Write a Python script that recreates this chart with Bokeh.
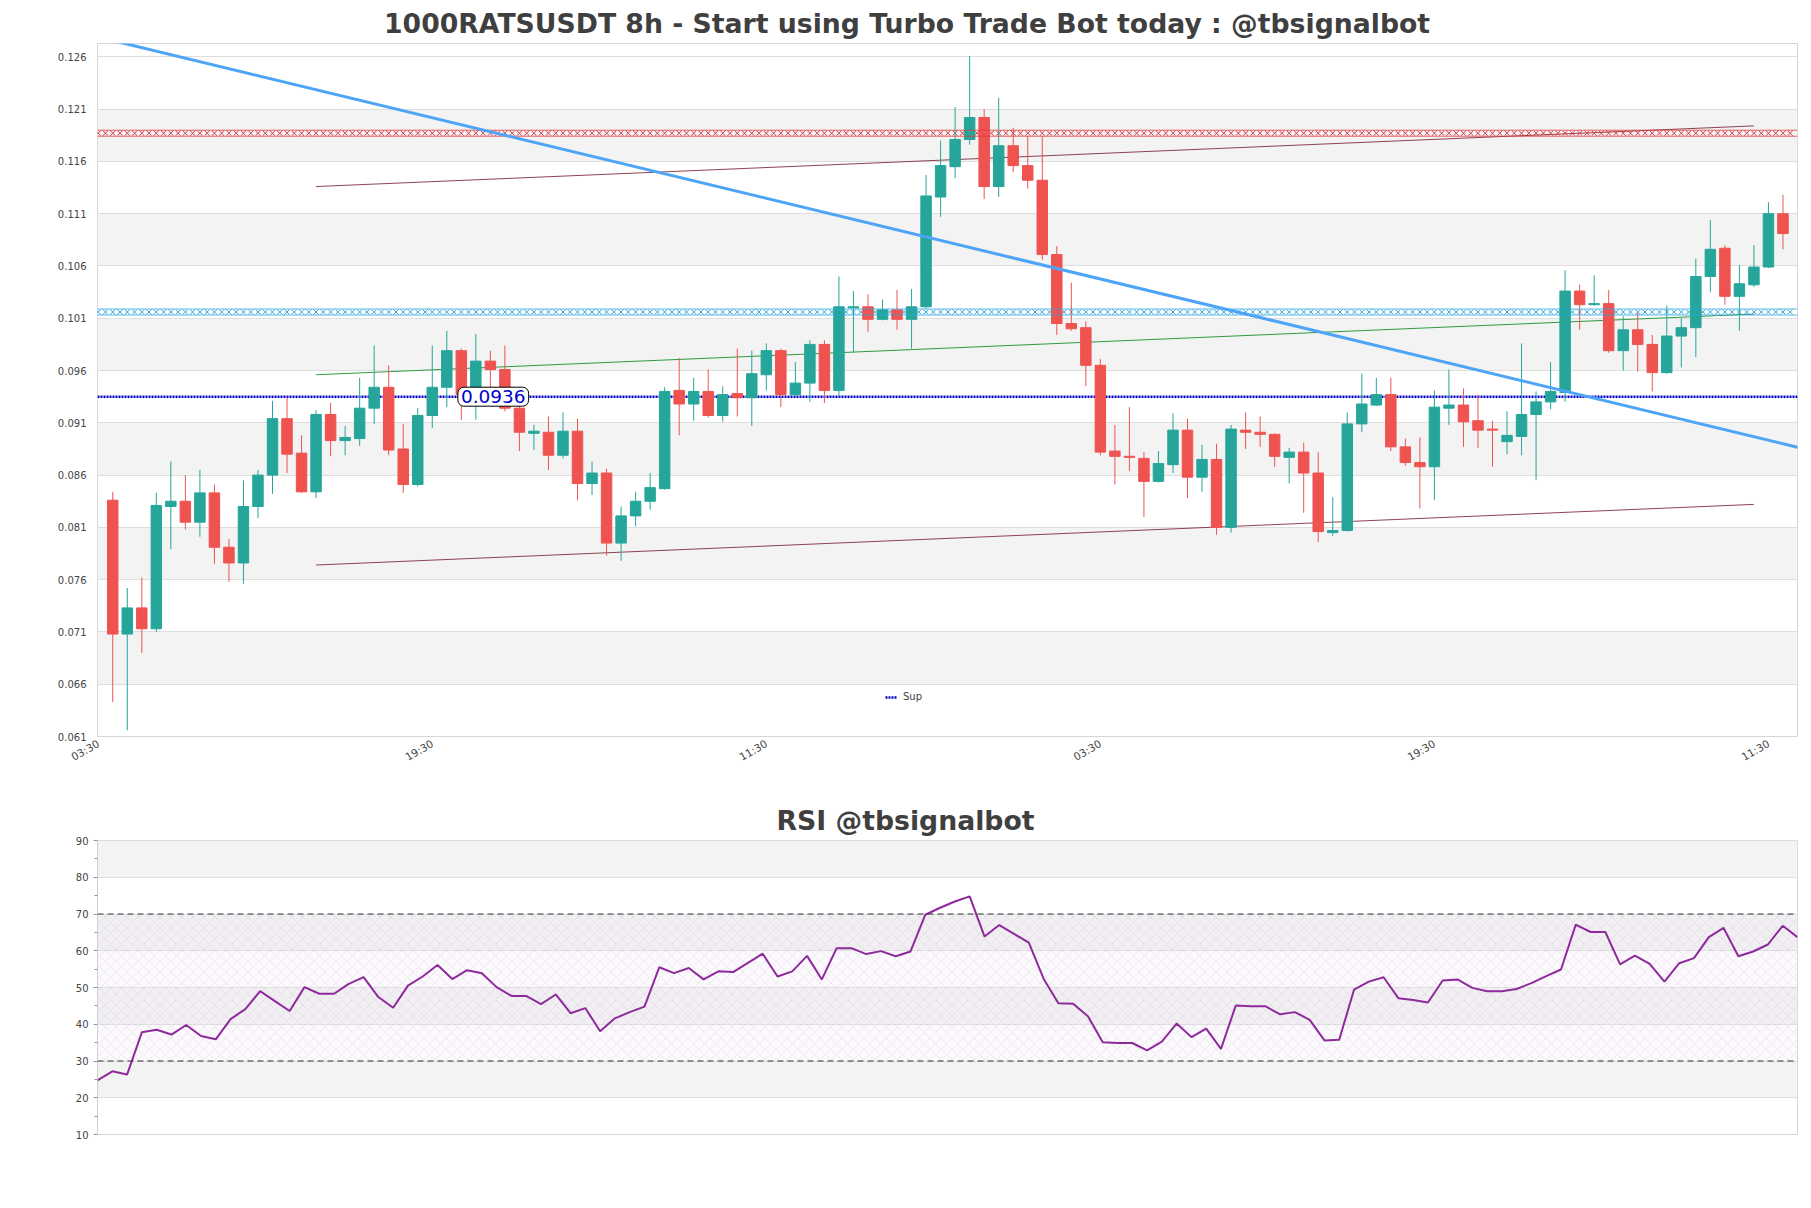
import numpy as np
from bokeh.plotting import figure
from bokeh.layouts import column
from bokeh.models import (Range1d, FixedTicker, PrintfTickFormatter, BoxAnnotation,
                          Span, Arrow, Label, Legend, LegendItem, ColumnDataSource)
from bokeh.embed import file_html
from bokeh.resources import INLINE

FONT = "DejaVu Sans"

# ---------------- data ----------------
opens = [0.0836, 0.0708, 0.0733, 0.0713, 0.0830, 0.0835, 0.0815, 0.0843, 0.0791, 0.0776,
         0.0830, 0.0860, 0.0914, 0.0881, 0.0844, 0.0918, 0.0893, 0.0895, 0.0924, 0.0944,
         0.0885, 0.0851, 0.0917, 0.0944, 0.0979, 0.0937, 0.0969, 0.0961, 0.0924, 0.0900,
         0.0901, 0.0879, 0.0902, 0.0852, 0.0862, 0.0795, 0.0821, 0.0835, 0.0847, 0.0941,
         0.0928, 0.0940, 0.0917, 0.0938, 0.0934, 0.0956, 0.0979, 0.0937, 0.0948, 0.0985,
         0.0941, 0.1020, 0.1021, 0.1009, 0.1018, 0.1009, 0.1021, 0.1126, 0.1155, 0.1181,
         0.1202, 0.1136, 0.1175, 0.1156, 0.1142, 0.1071, 0.1005, 0.1001, 0.0965, 0.0883,
         0.0878, 0.0876, 0.0854, 0.0870, 0.0903, 0.0858, 0.0875, 0.0810, 0.0903, 0.0901,
         0.0899, 0.0877, 0.0882, 0.0862, 0.0805, 0.0807, 0.0909, 0.0927, 0.0937, 0.0887,
         0.0872, 0.0868, 0.0924, 0.0927, 0.0912, 0.0904, 0.0892, 0.0897, 0.0918, 0.0930,
         0.0939, 0.1036, 0.1023, 0.1024, 0.0979, 0.0999, 0.0985, 0.0958, 0.0993, 0.1001,
         0.1050, 0.1077, 0.1031, 0.1042, 0.1059, 0.1110]
highs = [0.0844, 0.0752, 0.0762, 0.0843, 0.0873, 0.0860, 0.0865, 0.0851, 0.0799, 0.0855,
         0.0865, 0.0931, 0.0934, 0.0898, 0.0922, 0.0929, 0.0907, 0.0953, 0.0984, 0.0965,
         0.0909, 0.0924, 0.0984, 0.0998, 0.0981, 0.0995, 0.0979, 0.0984, 0.0930, 0.0908,
         0.0916, 0.0920, 0.0914, 0.0873, 0.0866, 0.0830, 0.0844, 0.0862, 0.0944, 0.0972,
         0.0953, 0.0961, 0.0945, 0.0981, 0.0979, 0.0986, 0.0981, 0.0968, 0.0989, 0.0989,
         0.1050, 0.1036, 0.1033, 0.1028, 0.1037, 0.1038, 0.1147, 0.1180, 0.1212, 0.1261,
         0.1210, 0.1221, 0.1192, 0.1184, 0.1184, 0.1079, 0.1044, 0.1007, 0.0971, 0.0908,
         0.0925, 0.0882, 0.0883, 0.0919, 0.0914, 0.0889, 0.0890, 0.0908, 0.0920, 0.0916,
         0.0900, 0.0886, 0.0891, 0.0882, 0.0839, 0.0920, 0.0957, 0.0953, 0.0953, 0.0895,
         0.0896, 0.0941, 0.0961, 0.0943, 0.0937, 0.0912, 0.0921, 0.0986, 0.0940, 0.0968,
         0.1056, 0.1042, 0.1051, 0.1037, 0.1012, 0.1015, 0.0994, 0.1022, 0.1010, 0.1067,
         0.1104, 0.1080, 0.1061, 0.1080, 0.1121, 0.1128]
lows = [0.0643, 0.0616, 0.0690, 0.0710, 0.0789, 0.0808, 0.0801, 0.0775, 0.0758, 0.0756,
        0.0819, 0.0842, 0.0862, 0.0843, 0.0838, 0.0878, 0.0879, 0.0888, 0.0909, 0.0879,
        0.0843, 0.0849, 0.0905, 0.0925, 0.0913, 0.0913, 0.0935, 0.0921, 0.0883, 0.0884,
        0.0865, 0.0876, 0.0836, 0.0841, 0.0783, 0.0778, 0.0811, 0.0827, 0.0846, 0.0898,
        0.0912, 0.0915, 0.0911, 0.0916, 0.0907, 0.0941, 0.0925, 0.0934, 0.0930, 0.0929,
        0.0935, 0.0977, 0.0997, 0.1008, 0.0999, 0.0981, 0.1019, 0.1107, 0.1144, 0.1176,
        0.1124, 0.1126, 0.1150, 0.1134, 0.1066, 0.0994, 0.0998, 0.0945, 0.0879, 0.0851,
        0.0864, 0.0820, 0.0853, 0.0862, 0.0838, 0.0844, 0.0803, 0.0805, 0.0885, 0.0887,
        0.0868, 0.0852, 0.0824, 0.0796, 0.0802, 0.0806, 0.0901, 0.0926, 0.0883, 0.0869,
        0.0828, 0.0836, 0.0908, 0.0887, 0.0886, 0.0868, 0.0880, 0.0879, 0.0855, 0.0923,
        0.0930, 0.0999, 0.1022, 0.0977, 0.0960, 0.0959, 0.0940, 0.0957, 0.0963, 0.0973,
        0.1035, 0.1023, 0.0998, 0.1040, 0.1058, 0.1076]
closes = [0.0708, 0.0733, 0.0713, 0.0831, 0.0835, 0.0815, 0.0843, 0.0791, 0.0776, 0.0830,
          0.0860, 0.0914, 0.0880, 0.0844, 0.0918, 0.0893, 0.0896, 0.0924, 0.0944, 0.0884,
          0.0851, 0.0917, 0.0944, 0.0979, 0.0937, 0.0969, 0.0961, 0.0924, 0.0901, 0.0902,
          0.0879, 0.0902, 0.0852, 0.0862, 0.0795, 0.0821, 0.0835, 0.0848, 0.0940, 0.0928,
          0.0940, 0.0917, 0.0937, 0.0934, 0.0957, 0.0979, 0.0937, 0.0948, 0.0985, 0.0941,
          0.1021, 0.1021, 0.1009, 0.1018, 0.1009, 0.1021, 0.1127, 0.1156, 0.1181, 0.1202,
          0.1136, 0.1175, 0.1156, 0.1142, 0.1071, 0.1005, 0.1000, 0.0965, 0.0882, 0.0878,
          0.0877, 0.0854, 0.0871, 0.0903, 0.0858, 0.0875, 0.0810, 0.0904, 0.0901, 0.0899,
          0.0878, 0.0882, 0.0862, 0.0806, 0.0807, 0.0909, 0.0928, 0.0937, 0.0887, 0.0872,
          0.0868, 0.0925, 0.0927, 0.0911, 0.0903, 0.0903, 0.0898, 0.0918, 0.0930, 0.0940,
          0.1036, 0.1023, 0.1024, 0.0979, 0.0999, 0.0985, 0.0958, 0.0993, 0.1001, 0.1050,
          0.1076, 0.1031, 0.1043, 0.1059, 0.1110, 0.1091]

rsi = [24.7, 27.2, 26.3, 37.8, 38.5, 37.2, 39.8, 36.8, 35.9, 41.4,
       44.1, 49.0, 46.3, 43.6, 50.1, 48.3, 48.3, 51.0, 52.8, 47.4,
       44.5, 50.5, 53.0, 56.1, 52.3, 54.7, 53.9, 50.1, 47.7, 47.7,
       45.5, 48.1, 43.0, 44.4, 38.1, 41.6, 43.3, 44.8, 55.5, 53.9,
       55.3, 52.2, 54.4, 54.2, 56.7, 59.2, 53.0, 54.4, 58.6, 52.2,
       60.7, 60.7, 59.1, 59.9, 58.5, 59.8, 69.8, 71.7, 73.4, 74.8,
       63.9, 67.0, 64.6, 62.2, 52.4, 45.7, 45.6, 42.2, 35.1, 34.9,
       34.9, 32.9, 35.3, 40.2, 36.5, 38.8, 33.3, 45.1, 44.9, 44.9,
       42.7, 43.3, 41.2, 35.6, 35.8, 49.4, 51.6, 52.8, 47.1, 46.6,
       45.9, 51.9, 52.2, 49.9, 49.0, 49.0, 49.6, 51.2, 53.1, 54.9,
       67.1, 65.1, 65.1, 56.3, 58.7, 56.4, 51.6, 56.6, 58.0, 63.7,
       66.2, 58.5, 59.8, 61.7, 66.8, 63.7]

price_ticks = [0.061, 0.066, 0.071, 0.076, 0.081, 0.086, 0.091, 0.096, 0.101,
               0.106, 0.111, 0.116, 0.121, 0.126]
time_tick_pos = [-1, 22, 45, 68, 91, 114]
time_tick_labels = ["03:30", "19:30", "11:30", "03:30", "19:30", "11:30"]

resistance_level = 0.1187
mid_level = 0.1016
sup_level = 0.0935
sup_text = "0.0936"
sup_label_x = 26.2

channel_x = [14, 113]
channel_upper = [0.1136, 0.1194]
channel_mid = [0.0956, 0.1014]
channel_lower = [0.0774, 0.0832]

trend_x = [-7.3, 116.8]
trend_y = [0.1300, 0.0884]

rsi_ticks = [10, 20, 30, 40, 50, 60, 70, 80, 90]
rsi_minor = [15, 25, 35, 45, 55, 65, 75, 85]
rsi_levels = [30, 70]

title_main = "1000RATSUSDT 8h - Start using Turbo Trade Bot today : @tbsignalbot"
title_rsi = "RSI @tbsignalbot"

# ---------------- layout constants ----------------
W = 1805
LEFT = 97
RIGHT = W - 1797
MAIN_TOP, MAIN_FRAME_H, MAIN_BOTTOM = 43, 693, 54
RSI_TOP, RSI_FRAME_H, RSI_BOTTOM = 50, 294, 60
TITLE_SIZE = "26.7px"


def style_title(fig, text, left_px):
    fig.title.text = text
    fig.title.align = "left"
    fig.title.offset = left_px - LEFT
    fig.title.text_font = FONT
    fig.title.text_font_size = TITLE_SIZE
    fig.title.text_font_style = "bold"
    fig.title.text_color = "#3f3f3f"
    fig.title.standoff = 9


# ---------------- main chart ----------------
n = len(opens)
idx = np.arange(n)
o = np.array(opens); h = np.array(highs); l = np.array(lows); c = np.array(closes)
up = c >= o
col = np.where(up, "#26a69a", "#ef5350")
src = ColumnDataSource(dict(x=idx, h=h, l=l, top=np.maximum(o, c),
                            bottom=np.minimum(o, c), color=col))

p = figure(width=W, height=MAIN_TOP + MAIN_FRAME_H + MAIN_BOTTOM, output_backend="svg",
           toolbar_location=None,
           x_range=Range1d(-1.05, 116.0), y_range=Range1d(0.061, 0.12728),
           min_border_left=LEFT, min_border_right=RIGHT, min_border_top=MAIN_TOP,
           min_border_bottom=MAIN_BOTTOM)
style_title(p, title_main, 383.5)
p.background_fill_color = "white"
p.border_fill_color = "white"
p.outline_line_color = "#d6d6d6"

for i in range(1, len(price_ticks) - 1, 2):
    p.add_layout(BoxAnnotation(bottom=price_ticks[i], top=price_ticks[i + 1],
                               fill_color="#f3f3f3", fill_alpha=1, line_alpha=0,
                               level="image"))

p.xgrid.visible = False
p.ygrid.ticker = FixedTicker(ticks=price_ticks)
p.ygrid.grid_line_color = "#dedede"
p.ygrid.grid_line_width = 1

p.yaxis.ticker = FixedTicker(ticks=price_ticks)
p.yaxis.formatter = PrintfTickFormatter(format="%.3f")
p.yaxis.major_label_text_font = FONT
p.yaxis.major_label_text_font_size = "10px"
p.yaxis.major_label_text_color = "#444444"
p.yaxis.axis_line_color = None
p.yaxis.major_tick_line_color = None
p.yaxis.minor_tick_line_color = None

p.xaxis.ticker = FixedTicker(ticks=time_tick_pos)
p.xaxis.major_label_overrides = {t: s for t, s in zip(time_tick_pos, time_tick_labels)}
p.xaxis.major_label_orientation = 0.5236
p.xaxis.major_label_standoff = 0
p.xaxis.major_label_text_font = FONT
p.xaxis.major_label_text_font_size = "10.5px"
p.xaxis.major_label_text_color = "#444444"
p.xaxis.axis_line_color = None
p.xaxis.major_tick_line_color = None
p.xaxis.minor_tick_line_color = None

# channel lines
p.line(channel_x, channel_upper, line_color="#7a2232", line_alpha=0.85, line_width=1)
p.line(channel_x, channel_lower, line_color="#7a2232", line_alpha=0.85, line_width=1)
p.line(channel_x, channel_mid, line_color="#2e9b3f", line_width=1)

# marker lines (hourglass chain look)
px_per_price = MAIN_FRAME_H / (0.12728 - 0.061)
half = 3.0 / px_per_price
xs_m = np.arange(-1.0, 116.0, 0.5)
for lvl, colr in [(resistance_level, "#e0393e"), (mid_level, "#2aa5dd")]:
    p.scatter(xs_m, np.full(len(xs_m), lvl), marker="x", size=7, line_color=colr,
              line_width=1)
    for off in (-half, half):
        p.add_layout(Span(location=lvl + off, dimension="width", line_color=colr,
                          line_width=1, line_alpha=0.8))

# support line
sup_r = p.line([-1.05, 116.0], [sup_level, sup_level], line_color="#0000c8",
               line_width=2.5, line_dash="2 1")

# candles
p.segment(x0="x", y0="l", x1="x", y1="h", line_color="color", line_width=1, source=src)
p.vbar(x="x", width=0.72, top="top", bottom="bottom", fill_color="color",
       line_color="color", line_width=1, source=src)

# trend line
p.add_layout(Arrow(x_start=trend_x[0], y_start=trend_y[0], x_end=trend_x[1],
                   y_end=trend_y[1], start=None, end=None, line_color="#4ea4f6",
                   line_width=3))

p.add_layout(Label(x=sup_label_x, y=sup_level, text=sup_text, text_align="center",
                   text_baseline="middle", text_font=FONT, text_font_size="18.5px",
                   text_color="#0000cc", background_fill_color="white",
                   border_line_color="black", border_line_width=1, padding=3,
                   border_radius=6))

legend = Legend(items=[LegendItem(label="Sup", renderers=[sup_r])], location=(788, 34),
                background_fill_alpha=0, border_line_alpha=0, label_text_font=FONT,
                label_text_font_size="10px", glyph_width=12, glyph_height=10,
                padding=0, margin=0, label_standoff=6)
p.add_layout(legend)

# ---------------- RSI chart ----------------
rsi_x = np.arange(len(rsi))
r = figure(width=W, height=RSI_TOP + RSI_FRAME_H + RSI_BOTTOM, output_backend="svg",
           toolbar_location=None,
           x_range=Range1d(0, len(rsi) - 1), y_range=Range1d(10, 90),
           min_border_left=LEFT, min_border_right=RIGHT, min_border_top=RSI_TOP,
           min_border_bottom=RSI_BOTTOM)
style_title(r, title_rsi, 776)
r.outline_line_color = "#d6d6d6"
r.xaxis.visible = False
r.xgrid.visible = False
r.ygrid.ticker = FixedTicker(ticks=rsi_ticks)
r.ygrid.grid_line_color = "#dedede"
for i in range(1, len(rsi_ticks) - 1, 2):
    r.add_layout(BoxAnnotation(bottom=rsi_ticks[i], top=rsi_ticks[i + 1],
                               fill_color="#f3f3f3", fill_alpha=1, line_alpha=0,
                               level="image"))
r.add_layout(BoxAnnotation(bottom=rsi_levels[0], top=rsi_levels[1], fill_color="#eadcf0",
                           fill_alpha=0.18, hatch_pattern="diagonal_cross",
                           hatch_color="#b9a6c4", hatch_alpha=0.35, hatch_scale=11,
                           hatch_weight=0.6, line_alpha=0, level="underlay"))
r.yaxis.ticker = FixedTicker(ticks=rsi_ticks, minor_ticks=rsi_minor)
r.yaxis.major_label_text_font = FONT
r.yaxis.major_label_text_font_size = "10px"
r.yaxis.major_label_text_color = "#444444"
r.yaxis.axis_line_color = "#cfcfcf"
r.yaxis.major_tick_line_color = "#999999"
r.yaxis.minor_tick_line_color = "#999999"
r.yaxis.major_tick_out = 4
r.yaxis.major_tick_in = 0
r.yaxis.minor_tick_out = 3
r.yaxis.minor_tick_in = 0
for lv in rsi_levels:
    r.add_layout(Span(location=lv, dimension="width", line_color="#333333",
                      line_dash="6 4", line_width=1.2))
r.line(rsi_x, rsi, line_color="#8e2a9c", line_width=2)

layout = column(p, r)
open("out.html", "w").write(file_html(layout, INLINE))
